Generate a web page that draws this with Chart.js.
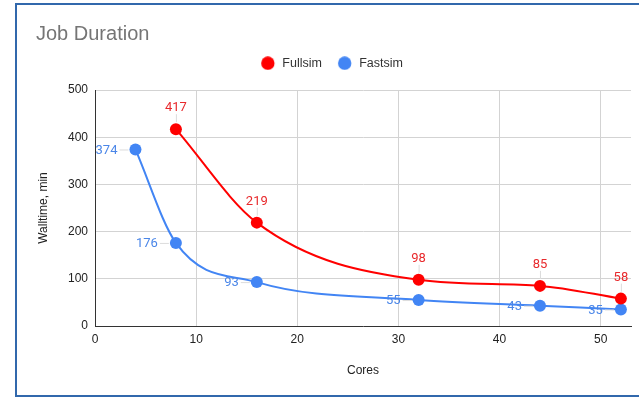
<!DOCTYPE html>
<html>
<head>
<meta charset="utf-8">
<title>Job Duration</title>
<script src="https://cdn.jsdelivr.net/npm/chart.js@4.4.1/dist/chart.umd.min.js"></script>
<style>
  html, body { margin: 0; padding: 0; background: #ffffff; }
  #frame {
    position: absolute; left: 15px; top: 3px;
    width: 640px; height: 390px;
    border: 2px solid #3168ac;
  }
  #chart { position: absolute; left: 0; top: 0; }
</style>
</head>
<body>
<div id="frame"></div>
<canvas id="chart" width="639" height="399"></canvas>
<script>
// Walltime (minutes) measured for each core count
const fullsimCores   = [8, 16, 32, 44, 52];
const fullsimMinutes = [417, 219, 98, 85, 58];
const fastsimCores   = [4, 8, 16, 32, 44, 52];
const fastsimMinutes = [374, 176, 93, 55, 43, 35];

const yTicks = [0, 100, 200, 300, 400, 500];
const xTicks = [0, 10, 20, 30, 40, 50];

const toPoints = (xs, ys) => xs.map((x, i) => ({ x: x, y: ys[i] }));

const FONT = "'Liberation Sans', Arial, sans-serif";

// Legend marker: a filled dot sitting left of the marker box centre,
// which leaves a wider gap before the legend text
function legendDot(color) {
  const c = document.createElement('canvas');
  c.width = 20; c.height = 14;
  const g = c.getContext('2d');
  g.fillStyle = color;
  g.beginPath();
  g.arc(7.75, 7, 6.7, 0, Math.PI * 2);
  g.fill();
  return c;
}

// Value labels with short leader lines, drawn after the series
const valueLabels = {
  id: 'valueLabels',
  afterDatasetsDraw(chart) {
    const ctx = chart.ctx;
    ctx.save();
    chart.data.datasets.forEach((ds, i) => {
      const meta = chart.getDatasetMeta(i);
      meta.data.forEach((pt, j) => {
        const text = String(ds.data[j].y);
        const x = pt.x, y = pt.y;
        ctx.font = "13px Roboto, 'Noto Sans', sans-serif";
        ctx.lineWidth = 1;
        ctx.strokeStyle = '#dcdcdc';
        ctx.fillStyle = ds.labelColor;
        ctx.beginPath();
        if (ds.labelSide === 'above') {
          ctx.moveTo(x + 0.5, y - 7);
          ctx.lineTo(x + 0.5, y - 15);
          ctx.stroke();
          ctx.textAlign = 'center';
          ctx.textBaseline = 'middle';
          ctx.fillText(text, x, y - 21);
        } else {
          ctx.moveTo(x - 16, y + 0.5);
          ctx.lineTo(x - 7, y + 0.5);
          ctx.stroke();
          ctx.textAlign = 'right';
          ctx.textBaseline = 'middle';
          ctx.fillText(text, x - 18, y + 1);
        }
      });
    });
    ctx.restore();
  }
};

new Chart(document.getElementById('chart'), {
  type: 'line',
  data: {
    datasets: [
      {
        label: 'Fullsim',
        data: toPoints(fullsimCores, fullsimMinutes),
        borderColor: '#ff0000',
        backgroundColor: '#ff0000',
        labelColor: '#e8292c',
        labelSide: 'above',
        borderWidth: 2,
        pointRadius: 6,
        pointHoverRadius: 6,
        pointBorderWidth: 0,
        cubicInterpolationMode: 'monotone'
      },
      {
        label: 'Fastsim',
        data: toPoints(fastsimCores, fastsimMinutes),
        borderColor: '#4285f4',
        backgroundColor: '#4285f4',
        labelColor: '#4a86e8',
        labelSide: 'left',
        borderWidth: 2,
        pointRadius: 6,
        pointHoverRadius: 6,
        pointBorderWidth: 0,
        cubicInterpolationMode: 'monotone'
      }
    ]
  },
  options: {
    responsive: false,
    animation: false,
    devicePixelRatio: 1,
    layout: { padding: { left: 36, right: 8, top: 0, bottom: 6 } },
    plugins: {
      title: {
        display: true,
        text: 'Job Duration',
        align: 'start',
        color: '#757575',
        font: { family: FONT, size: 20, weight: 'normal', lineHeight: 1.0 },
        padding: { top: 24, bottom: -6 }
      },
      subtitle: {
        display: true,
        text: '',
        weight: 500,
        font: { size: 10, lineHeight: 1 },
        padding: { top: 0, bottom: 0.5 }
      },
      legend: {
        display: true,
        position: 'top',
        labels: {
          usePointStyle: true,
          boxWidth: 12,
          boxHeight: 12,
          padding: 19,
          color: '#333333',
          font: { family: FONT, size: 12.5 },
          generateLabels(chart) {
            const items = Chart.defaults.plugins.legend.labels.generateLabels(chart);
            items.forEach(item => {
              item.pointStyle = legendDot(chart.data.datasets[item.datasetIndex].borderColor);
            });
            return items;
          }
        }
      },
      tooltip: { enabled: false }
    },
    scales: {
      x: {
        type: 'linear',
        min: 0,
        max: 53,
        afterFit(scale) { scale.height = 67; },
        afterBuildTicks(scale) { scale.ticks = xTicks.map(v => ({ value: v })); },
        grid: { color: '#d3d3d3', drawTicks: false },
        border: { color: '#333333', width: 1 },
        ticks: { color: '#222222', padding: 6, font: { family: FONT, size: 12 } },
        title: {
          display: true,
          text: 'Cores',
          color: '#222222',
          font: { family: FONT, size: 12 },
          padding: { top: 0, bottom: 15 }
        }
      },
      y: {
        type: 'linear',
        min: 0,
        max: 500,
        afterFit(scale) { scale.width = 59; },
        afterBuildTicks(scale) { scale.ticks = yTicks.map(v => ({ value: v })); },
        grid: { color: '#d3d3d3', drawTicks: false },
        border: { color: '#333333', width: 1 },
        ticks: { color: '#222222', padding: 7, font: { family: FONT, size: 12 } },
        title: {
          display: true,
          text: 'Walltime, min',
          color: '#222222',
          font: { family: FONT, size: 12 },
          padding: 0
        }
      }
    }
  },
  plugins: [valueLabels]
});
</script>
</body>
</html>
